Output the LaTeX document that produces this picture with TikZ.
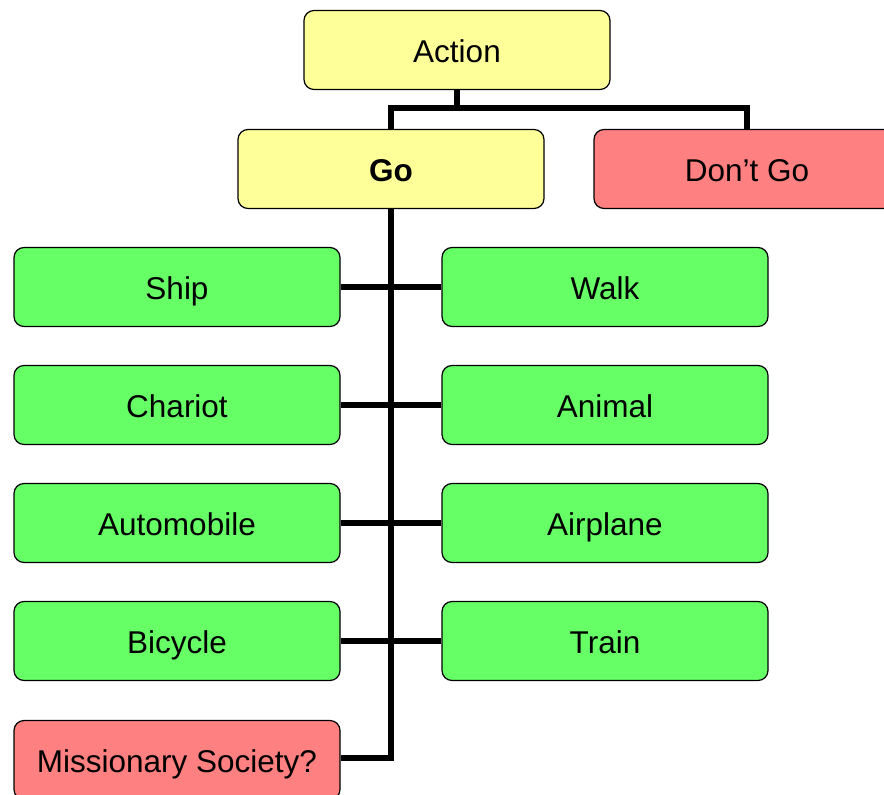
\documentclass[tikz,border=0pt]{standalone}
\usepackage{fontspec}
\setmainfont{Liberation Sans}
\usepackage{tikz}
\usetikzlibrary{positioning}
\definecolor{boxyellow}{RGB}{255,255,153}
\definecolor{boxgreen}{RGB}{102,255,102}
\definecolor{boxred}{RGB}{255,128,128}
\tikzset{
  chartbox/.style={draw=black,line width=1.2pt,rounded corners=10pt,minimum width=326pt,minimum height=79pt,inner sep=0pt,text height=28pt,text depth=3pt,font=\fontsize{31.5}{36}\selectfont},
  topbox/.style={chartbox,fill=boxyellow,minimum width=306pt},
  gobox/.style={chartbox,fill=boxgreen},
  nobox/.style={chartbox,fill=boxred},
  conn/.style={line width=6pt,line join=miter}
}
\begin{document}
\begin{tikzpicture}[x=1pt,y=-1pt]
\useasboundingbox[fill=white] (0,0) rectangle (884,795);
%top of the chart
\node[topbox] (action) at (457,50) {Action};
\node[topbox] (go) at (391,169) {\textbf{Go}};
\node[nobox,minimum width=306pt] (dontgo) at (747,169) {Don’t Go};
\coordinate (split) at (457,108);
%ways to go, left column
\node[gobox] (ship) at (177,287) {Ship};
\node[gobox] (chariot) at (177,405) {Chariot};
\node[gobox] (auto) at (177,523) {Automobile};
\node[gobox] (bicycle) at (177,641) {Bicycle};
\node[nobox] (mission) at (177,760) {Missionary Society?};
%ways to go, right column
\node[gobox] (walk) at (605,287) {Walk};
\node[gobox] (animal) at (605,405) {Animal};
\node[gobox] (airplane) at (605,523) {Airplane};
\node[gobox] (train) at (605,641) {Train};
%connectors
\draw[conn] (action.south) -- (split);
\draw[conn] (go.north) |- (split) -| (dontgo.north);
\draw[conn] (go.south) |- ([yshift=2pt]mission.east);
\draw[conn] (ship.east) -- (walk.west);
\draw[conn] (chariot.east) -- (animal.west);
\draw[conn] (auto.east) -- (airplane.west);
\draw[conn] (bicycle.east) -- (train.west);
\end{tikzpicture}
\end{document}
